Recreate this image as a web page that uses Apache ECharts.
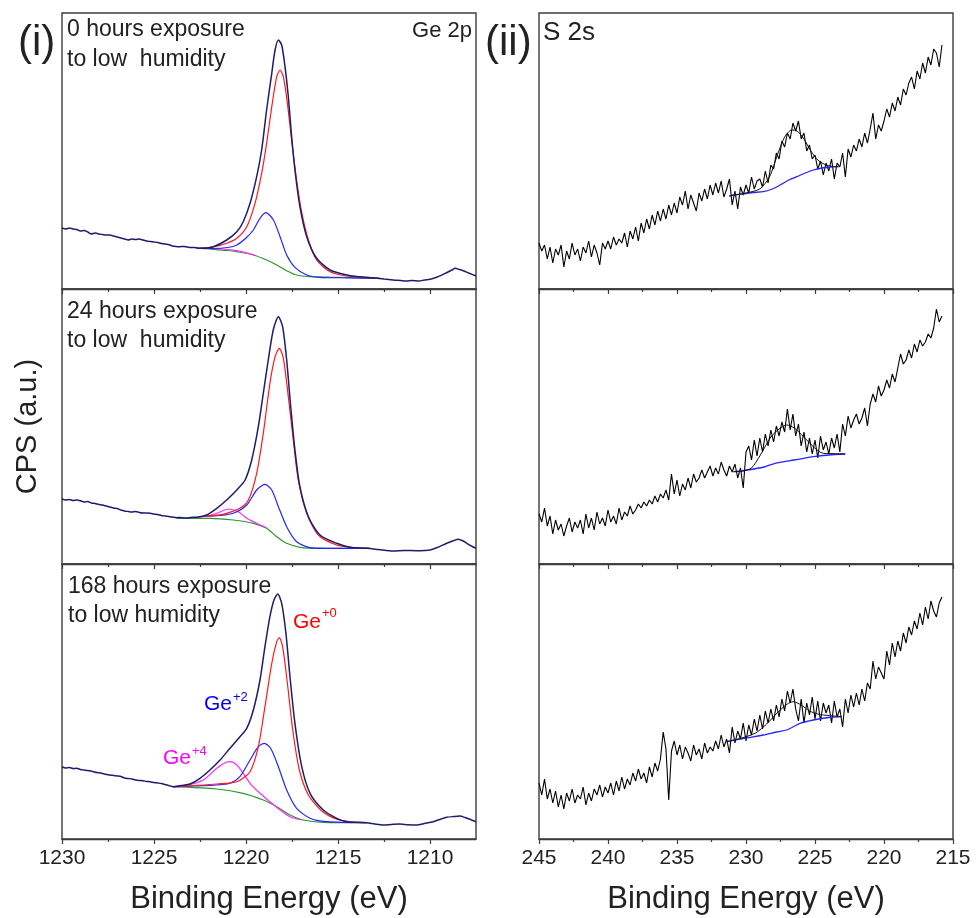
<!DOCTYPE html>
<html><head><meta charset="utf-8">
<script src="https://cdn.jsdelivr.net/npm/echarts@6/dist/echarts.min.js"></script>
<style>html,body{margin:0;padding:0;background:#fff}#c{width:979px;height:918px}</style>
</head><body><div id="c"></div>
<script>
// ---------- Ge 2p (binding energy eV, intensity a.u.) ----------
const ge0Data = [[1230,61],[1229.8,60],[1229.6,61],[1229.4,60],[1229.2,59.5],[1229.0,58],[1228.8,58.5],[1228.6,57],[1228.4,55],[1228.2,56],[1228.0,55],[1227.8,54.5],[1227.6,54],[1227.4,54],[1227.2,53],[1227.0,52],[1226.8,51],[1226.6,50],[1226.4,49],[1226.2,50],[1226.0,49.5],[1225.8,50],[1225.6,49],[1225.4,48],[1225.2,47.5],[1225.0,47],[1224.8,46.5],[1224.6,45.5],[1224.4,45],[1224.13,44],[1224.0,43],[1223.8,42.5],[1223.6,42.3],[1223.4,42.5],[1223.2,42],[1223.0,41.5],[1222.8,41.5],[1222.5,40.7],[1221.78,42.3],[1221.05,49],[1220.5,57.3],[1220.15,67.3],[1219.78,85.7],[1219.42,112.3],[1219.15,139],[1218.88,179],[1218.6,215.7],[1218.42,239],[1218.24,249],[1218.06,244],[1217.88,222.3],[1217.7,192.3],[1217.52,152.3],[1217.34,119],[1217.07,82.3],[1216.7,52.3],[1216.16,30.7],[1215.43,19],[1214.53,14],[1214.0,12.5],[1213.44,11.7],[1213.0,11],[1212.5,10],[1212.0,9],[1211.6,8.5],[1211.27,8],[1211.0,8.5],[1210.6,8],[1210.3,9],[1210.0,9.7],[1209.6,12],[1209.1,16.3],[1208.8,19],[1208.64,20.7],[1208.4,19.5],[1208.19,18.3],[1207.9,16],[1207.5,13]];
const ge0Red = [[1222.5,40.7],[1221.78,42.0],[1221.05,45.7],[1220.5,50.7],[1219.96,62.3],[1219.51,85.7],[1219.15,115.7],[1218.88,145.7],[1218.6,182.3],[1218.33,212.3],[1218.15,219],[1217.97,212.3],[1217.75,185.7],[1217.52,149],[1217.25,109],[1216.98,77.3],[1216.61,49],[1216.16,29],[1215.43,17.3],[1214.53,13],[1213.5,11.5],[1212.8,10.7]];
const ge0Blue = [[1222.5,40.7],[1221.8,40.5],[1221.0,41.5],[1220.5,44],[1220.0,51],[1219.6,59],[1219.24,70.7],[1218.91,76.3],[1218.51,69],[1218.15,52.3],[1217.79,34],[1217.34,21.7],[1216.7,14],[1216.0,11.7],[1214.5,11.2],[1212.8,10.7]];
const ge0Mag = [[1222.7,41],[1222.0,40.6],[1221.3,40],[1220.6,38.6],[1220.0,36.3],[1219.5,33.5]];
const ge0Bg = [[1222.7,41],[1222.0,40],[1221.0,38.5],[1220.5,37.3],[1219.6,34],[1218.88,29],[1218.33,24],[1217.79,18.3],[1217.25,14],[1216.52,12.3],[1215.5,11.8],[1214.35,11.5],[1212.7,10.7]];

const ge24Data = [[1230,65],[1229.8,64],[1229.6,64.5],[1229.4,63.5],[1229.2,64],[1229.0,63.3],[1228.8,62],[1228.6,62.5],[1228.4,61],[1228.2,60.5],[1228.0,59.5],[1227.8,59],[1227.6,58],[1227.4,57],[1227.2,56],[1227.0,55.5],[1226.8,54],[1226.6,53],[1226.4,52.5],[1226.2,52],[1226.0,52.5],[1225.8,51.5],[1225.6,51],[1225.4,51],[1225.2,50.7],[1225.0,50],[1224.8,49.5],[1224.6,48.5],[1224.4,48],[1224.2,47.5],[1224.0,47],[1223.8,46.3],[1223.6,46.5],[1223.3,46],[1223.0,46.5],[1222.6,47],[1222.14,49],[1221.59,55.7],[1221.05,64],[1220.5,74],[1220.05,84],[1219.69,104],[1219.33,137.3],[1219.06,170.7],[1218.79,204],[1218.52,234],[1218.24,247.3],[1218.01,237.3],[1217.79,204],[1217.57,157.3],[1217.34,114],[1217.07,77.3],[1216.61,47.3],[1215.98,29],[1215.07,20.7],[1214.35,16.7],[1213.44,15.7],[1212.8,14.5],[1212.0,13],[1211.4,13.5],[1210.72,13.3],[1210.3,13.5],[1210.0,14],[1209.6,16.5],[1209.09,20.7],[1208.7,23.5],[1208.46,24.7],[1208.2,23],[1208.0,20.7],[1207.7,17.5],[1207.5,15.7]];
const ge24Red = [[1222.3,47.5],[1221.6,48.8],[1221.05,50.7],[1220.33,55.7],[1219.87,64],[1219.42,90.7],[1219.06,130.7],[1218.7,180.7],[1218.42,207.3],[1218.19,215.7],[1217.97,205.7],[1217.7,167.3],[1217.43,124],[1217.16,84],[1216.7,50.7],[1216.07,29],[1215.07,19],[1214.2,16.5],[1213.3,15.7]];
const ge24Blue = [[1222.3,47.5],[1221.4,48.5],[1220.69,50.7],[1219.96,59],[1219.42,74],[1218.97,79.7],[1218.6,74],[1218.24,57.3],[1217.79,37.3],[1217.25,22.3],[1216.52,16.3],[1215.62,15.7],[1213.3,15.7]];
const ge24Mag = [[1222.7,46.5],[1222.1,48],[1221.59,50.7],[1220.96,55],[1220.42,52.3],[1219.96,45.7],[1219.42,40.7],[1218.88,36.2]];
const ge24Bg = [[1223.77,45.7],[1221.96,45.7],[1220.69,44],[1219.6,40.7],[1218.88,35.7],[1218.33,27.3],[1217.79,20.7],[1217.07,16.7],[1215.98,15.7],[1213.3,15.7]];

const ge168Data = [[1230,72.3],[1229.8,71],[1229.6,71.5],[1229.4,70.5],[1229.2,70.7],[1229.0,69.5],[1228.8,69],[1228.6,68.5],[1228.3,67.3],[1228.1,66.5],[1227.9,66],[1227.7,65],[1227.4,64],[1227.2,63.5],[1227.0,63],[1226.8,62.5],[1226.6,61],[1226.4,60.5],[1226.2,60],[1226.0,59],[1225.8,58.5],[1225.6,58.3],[1225.4,57.5],[1225.22,57.3],[1225.0,56.5],[1224.8,56],[1224.6,55.5],[1224.4,54.5],[1224.2,53.5],[1223.95,52.3],[1223.5,53.5],[1223.04,55],[1222.5,60.7],[1221.96,69],[1221.41,79],[1220.87,90.7],[1220.33,102.3],[1219.96,110.7],[1219.6,129],[1219.24,159],[1218.97,192.3],[1218.7,222.3],[1218.48,239],[1218.28,245],[1218.06,235.7],[1217.83,205.7],[1217.61,162.3],[1217.34,115.7],[1216.97,72.3],[1216.52,45.7],[1215.8,29],[1215.07,20.7],[1214.53,17.3],[1214.0,16.8],[1213.44,16.3],[1213.0,15],[1212.54,14],[1212.1,14.5],[1211.63,15],[1211.2,14.3],[1210.72,14],[1210.3,15.5],[1209.82,17.3],[1209.4,20],[1209.09,21.7],[1208.7,22.5],[1208.37,23],[1208.1,21.5],[1207.83,19.7],[1207.5,17.3]];
const ge168Red = [[1223.95,52.3],[1222.8,53.5],[1221.59,55],[1220.5,57.3],[1219.78,67.3],[1219.33,92.3],[1218.97,132.3],[1218.6,175.7],[1218.33,197.3],[1218.19,201.3],[1218.01,192.3],[1217.75,155.7],[1217.46,109],[1217.1,69],[1216.61,44],[1215.89,28.3],[1215.07,19.7],[1214.3,17.2],[1213.44,16.3]];
const ge168Blue = [[1223.95,52.3],[1222.8,53],[1221.59,54],[1220.87,55.7],[1220.33,62.3],[1219.78,79],[1219.33,92.3],[1219.0,95.7],[1218.66,90.7],[1218.24,72.3],[1217.79,49],[1217.25,30.7],[1216.52,20.7],[1215.62,17.3],[1213.44,16.3]];
const ge168Mag = [[1223.95,52.3],[1223.41,52.8],[1222.32,59],[1221.59,70.7],[1221.14,76.3],[1220.87,77.3],[1220.5,74],[1220.15,65.7],[1219.78,55.7],[1219.24,45.7],[1218.7,37.3],[1218.15,29],[1217.61,22.3],[1217.0,19]];
const ge168Bg = [[1223.95,52.3],[1221.59,50],[1220.15,45.7],[1219.06,39],[1218.33,32.3],[1217.61,24],[1216.89,19],[1215.8,16.7],[1213.44,16.3]];

// ---------- S 2s : counts sampled every 0.2 eV from 245 eV downwards ----------
const s2sStartEV = 245, s2sStepEV = 0.2;
const s0Counts = [46,38,44,30,42, 26,40,34,44,22, 38,30,46,34,40, 28,42,36,48,32, 44,36,24,46,40, 48,40,52,44,50, 46,56,42,58,50, 62,48,66,56,70, 60,74,64,78,68, 80,70,84,74,86, 76,92,84,98,80, 94,86,78,96,88, 100,90,104,94,106, 96,108,92,100,110, 84,98,80,102,94, 104,96,112,100,108, 110,102,118,106,124, 120,136,130,148,142, 156,150,166,158,168, 150,156,138,144,130, 134,120,128,114,126, 118,130,110,126,122, 136,112,140,132,144, 138,150,142,156,146, 160,176,150,164,158, 168,180,172,186,178, 192,184,200,194,206, 212,200,218,210,226, 216,232,224,240,236, 222,244];
const s24Counts = [50,42,56,38,48, 30,44,34,40,28, 38,46,32,42,36, 44,30,50,36,46, 34,52,40,46,38, 54,42,48,40,56, 44,52,48,58,50, 54,60,56,62,58, 64,60,68,62,70, 66,74,64,90,70, 84,68,80,74,86, 76,90,82,86,94, 86,92,98,88,96, 90,102,94,88,98, 92,100,86,96,76, 112,118,104,124,108, 126,112,130,118,134, 122,138,128,142,132, 155,134,150,128,140, 118,132,112,126,110, 124,106,128,114,122, 110,126,116,130,112, 140,128,148,136,144, 150,140,146,156,138, 160,170,162,178,168, 174,184,176,190,182, 196,210,200,204,214, 206,220,212,224,218, 222,230,226,236,255, 242,248];
const s168Counts = [56,44,60,40,50, 36,48,32,44,30, 46,38,50,36,44, 40,52,34,46,38, 50,44,54,42,52, 46,56,44,58,48, 62,50,60,54,66, 58,70,60,66,56, 72,62,76,68,80, 107,90,39,88,98, 84,94,80,92,86, 78,94,84,90,80, 96,86,92,88,98, 90,104,92,100,86, 112,96,108,100,116, 98,114,104,120,108, 124,110,128,116,130, 118,134,122,140,128, 148,136,150,130,118, 140,116,136,124,142, 120,138,118,136,126, 134,116,138,122,130, 112,140,126,144,132, 146,134,150,138,156, 150,178,160,172,166, 160,188,174,196,182, 198,188,206,196,212, 204,218,210,226,214, 232,220,238,228,222, 236,242];
const s0Base = [[231.2,93],[230.9,94],[230,95.5],[229.5,96.5],[228.74,97.3],[228,100.5],[227.53,104],[226.9,109],[226.32,112.3],[225.7,116],[225.12,119],[224.5,121],[223.9,122],[223.3,122.3]];
const s0Fit = [[231.2,93],[230,96],[229,100],[228.3,112],[227.7,135],[227.2,152],[226.7,159],[226.3,158],[225.8,150],[225.3,138],[224.8,129],[224.2,124],[223.7,122.5],[223.3,122.3]];
const s24Base = [[230.9,92.3],[229.9,94],[228.7,97],[227.9,100.7],[226.5,104],[225.1,107.3],[224,109],[222.8,110]];
const s24Fit = [[230.9,92.3],[230.2,93],[229.6,96],[229,108],[228.2,127],[227.6,135],[227.05,139],[226.5,136],[226.08,130.7],[225.6,124],[225.12,117.3],[224.7,112.5],[224.39,110.7],[223.5,110.3],[222.82,110]];
const s168Base = [[231.4,97.3],[230,101],[228.74,104],[227.8,107],[227.05,109],[226.6,112],[226.08,115.7],[225.12,119],[224,121.5],[223.06,122.3]];
const s168Fit = [[231.4,97.3],[230.3,101],[229.3,106],[228.5,115],[227.6,128],[227.0,135],[226.57,137.3],[226.0,134],[225.4,128],[224.8,125],[224.39,124],[223.5,122.8],[223.06,122.3]];

// tick labels
const geMajorTicks = [1230,1225,1220,1215,1210];
const geMinorTicks = [1227.5,1222.5,1217.5,1212.5];

// ---------- layout ----------
const FONT = '"Liberation Sans", Arial, sans-serif';
const TXT = '#222';
const FRAME = '#3c3c3c';
const tops = [13, 289, 564];
const heights = [276, 275, 275];
const grids = [], xAxes = [], yAxes = [], series = [];

function toPairs(counts){ return counts.map((v,i)=>[+(s2sStartEV - i*s2sStepEV).toFixed(2), v]); }

for (let col = 0; col < 2; col++) {
  for (let r = 0; r < 3; r++) {
    const gi = grids.length;
    grids.push({left: col ? 539 : 62, width: 414, top: tops[r], height: heights[r], show: true,
      borderColor: FRAME, borderWidth: 1.4, backgroundColor: 'transparent'});
    const bottom = r === 2;
    const common = {type: 'value', gridIndex: gi, inverse: true, position: 'bottom',
      axisLine: {show: true, onZero: false, lineStyle: {color: FRAME, width: 1.4}},
      splitLine: {show: false},
      nameLocation: 'middle', nameGap: 45,
      name: bottom ? 'Binding Energy (eV)' : '',
      nameTextStyle: {fontFamily: FONT, fontSize: 31, color: TXT}};
    const lblStyle = {show: bottom, fontFamily: FONT, fontSize: 21, color: TXT, margin: 9,
      formatter: v => String(v)};
    if (col === 0) {
      xAxes.push(Object.assign({}, common, {min: 1207.5, max: 1230,
        axisTick: {show: true, length: 5, inside: false, customValues: geMajorTicks, lineStyle: {color: FRAME, width: 1.2}},
        axisLabel: Object.assign({customValues: geMajorTicks}, lblStyle)}));
    } else {
      xAxes.push(Object.assign({}, common, {min: 215, max: 245, interval: 5,
        axisTick: {show: true, length: 5, inside: false, lineStyle: {color: FRAME, width: 1.2}},
        minorTick: {show: true, splitNumber: 2, length: 3, lineStyle: {color: FRAME, width: 1.2}},
        axisLabel: Object.assign({showMinLabel: true, showMaxLabel: true}, lblStyle)}));
    }
    yAxes.push({type: 'value', gridIndex: gi, min: 0, max: heights[r],
      axisLine: {show: false}, axisTick: {show: false}, axisLabel: {show: false}, splitLine: {show: false},
      name: (col === 0 && r === 1) ? 'CPS (a.u.)' : '', nameLocation: 'middle', nameGap: 20,
      nameTextStyle: {fontFamily: FONT, fontSize: 29, color: TXT}});
  }
}
// minor tick overlay axes for Ge 2p panels
for (let r = 0; r < 3; r++) {
  xAxes.push({type: 'value', gridIndex: r, inverse: true, min: 1207.5, max: 1230, position: 'bottom',
    axisLine: {show: false, onZero: false}, splitLine: {show: false},
    axisTick: {show: true, length: 3, customValues: geMinorTicks, lineStyle: {color: FRAME, width: 1.2}},
    axisLabel: {show: false}});
}

function line(idx, data, color, width, z) {
  series.push({type: 'line', xAxisIndex: idx, yAxisIndex: idx, data: data, showSymbol: false,
    smooth: 0.25, lineStyle: {color: color, width: width}, itemStyle: {color: color}, z: z, silent: true});
}
function rough(idx, data, color, width, z) {
  series.push({type: 'line', xAxisIndex: idx, yAxisIndex: idx, data: data, showSymbol: false,
    lineStyle: {color: color, width: width}, itemStyle: {color: color}, z: z, silent: true});
}
const GREEN = '#2f942f', MAG = '#ff2bff', BLUE = '#2525ff', RED = '#ff1a1a', NAVY = '#1d1d6c';
const geSets = [[ge0Data, ge0Red, ge0Blue, ge0Mag, ge0Bg],[ge24Data, ge24Red, ge24Blue, ge24Mag, ge24Bg],[ge168Data, ge168Red, ge168Blue, ge168Mag, ge168Bg]];
geSets.forEach((s, i) => {
  line(i, s[4], GREEN, 1.2, 2);
  line(i, s[3], MAG, 1.2, 3);
  line(i, s[2], BLUE, 1.2, 4);
  line(i, s[1], RED, 1.2, 5);
  line(i, s[0], NAVY, 1.5, 6);
});
const sSets = [[s0Counts, s0Base, s0Fit],[s24Counts, s24Base, s24Fit],[s168Counts, s168Base, s168Fit]];
sSets.forEach((s, i) => {
  rough(3 + i, toPairs(s[0]), '#000', 1.1, 2);
  line(3 + i, s[1], BLUE, 1.3, 3);
  line(3 + i, s[2], '#111', 1.0, 4);
});

function txt(x, y, text, size, color, align) {
  return {type: 'text', x: x, y: y, silent: true, z: 50,
    style: {text: text, font: size + 'px ' + FONT, fill: color || TXT, textAlign: align || 'left', textVerticalAlign: 'middle'}};
}
const graphic = [
  txt(18, 43, '(i)', 42), txt(485, 43, '(ii)', 42),
  txt(67, 30, '0 hours exposure', 23), txt(67, 60, 'to low  humidity', 23),
  txt(472, 31, 'Ge 2p', 22, TXT, 'right'),
  txt(67, 312, '24 hours exposure', 23), txt(67, 341, 'to low  humidity', 23),
  txt(68, 587, '168 hours exposure', 23), txt(68, 616, 'to low humidity', 23),
  txt(543, 33, 'S 2s', 26),
  txt(293, 622, 'Ge', 21, '#ff0000'), txt(322, 613, '+0', 13, '#ff0000'),
  txt(204, 704, 'Ge', 21, '#0000ff'), txt(233, 697, '+2', 13, '#0000ff'),
  txt(163, 758, 'Ge', 21, '#ff00ff'), txt(192, 751, '+4', 13, '#ff00ff')
];

const chart = echarts.init(document.getElementById('c'), null, {renderer: 'canvas'});
chart.setOption({animation: false, backgroundColor: '#fff', grid: grids, xAxis: xAxes, yAxis: yAxes, series: series, graphic: graphic});
</script></body></html>
